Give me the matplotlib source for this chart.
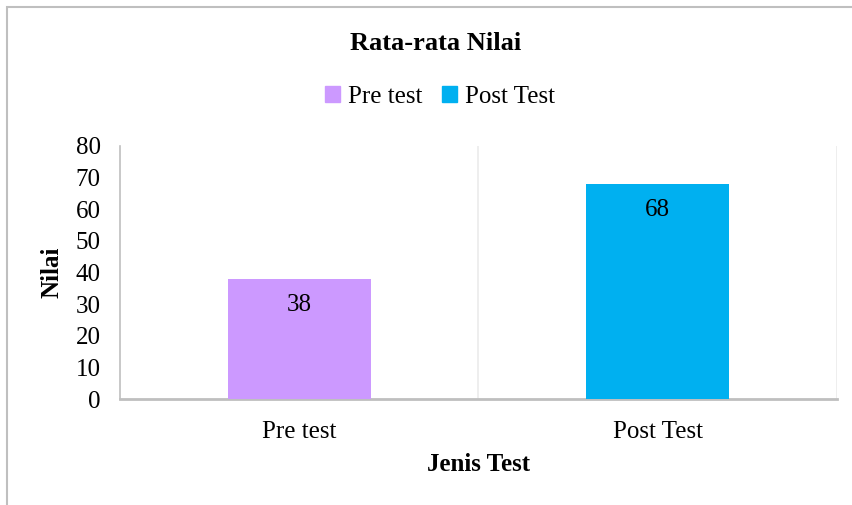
import matplotlib.pyplot as plt
from matplotlib.patches import Rectangle, Patch

# data
categories = ["Pre test", "Post Test"]
values = [38, 68]
colors = ["#CC99FF", "#00B0F0"]
yticks = [0, 10, 20, 30, 40, 50, 60, 70, 80]

plt.rcParams['font.family'] = ['Liberation Serif', 'DejaVu Serif']

W, H = 853, 505
fig = plt.figure(figsize=(W / 100, H / 100), dpi=100)
ax = fig.add_axes([120 / W, 1 - 399 / H, (837 - 120) / W, (399 - 146) / H])

x = list(range(len(categories)))
bars = ax.bar(x, values, width=0.4, color=colors, zorder=3)

ax.set_xlim(-0.5, len(categories) - 0.5)
ax.set_ylim(0, 80)
ax.set_yticks(yticks)
ax.set_xticks(x)
ax.set_xticklabels(categories)
ax.tick_params(axis='both', length=0, labelsize=18, colors='black')
ax.tick_params(axis='y', pad=14)
ax.tick_params(axis='x', pad=16)

# vertical gridlines at category boundaries
for b in [0.5, 1.5]:
    ax.axvline(b, color='#ebebeb', lw=1.2, zorder=1)

for s in ['top', 'right']:
    ax.spines[s].set_visible(False)
ax.spines['left'].set_color('#bfbfbf')
ax.spines['left'].set_linewidth(1.2)
ax.spines['bottom'].set_color('#bfbfbf')
ax.spines['bottom'].set_linewidth(2)

# data labels
for xi, v in zip(x, values):
    ax.annotate(str(v), (xi, v), xytext=(0, -26), textcoords='offset pixels',
                ha='center', va='center', fontsize=18, zorder=4)

ax.set_xlabel("Jenis Test", fontsize=18, fontweight='bold', labelpad=7)
ax.set_ylabel("Nilai", fontsize=18, fontweight='bold', labelpad=9)

fig.text(436 / W, 1 - 44 / H, "Rata-rata Nilai", ha='center', va='center',
         fontsize=19, fontweight='bold')

handles = [Patch(color=c, label=l) for c, l in zip(colors, categories)]
fig.legend(handles=handles, loc='center', bbox_to_anchor=(440 / W, 1 - 97 / H),
           ncol=2, frameon=False, fontsize=18, handlelength=0.6, handleheight=0.6,
           handletextpad=0.3, columnspacing=0.8)

# outer chart border
fig.patches.append(Rectangle((7 / W, -0.1), 1.1, 1 - 7 / H + 0.1,
                             transform=fig.transFigure, fill=False,
                             edgecolor='#bfbfbf', lw=1.5))

plt.savefig("out.png", dpi=100)
